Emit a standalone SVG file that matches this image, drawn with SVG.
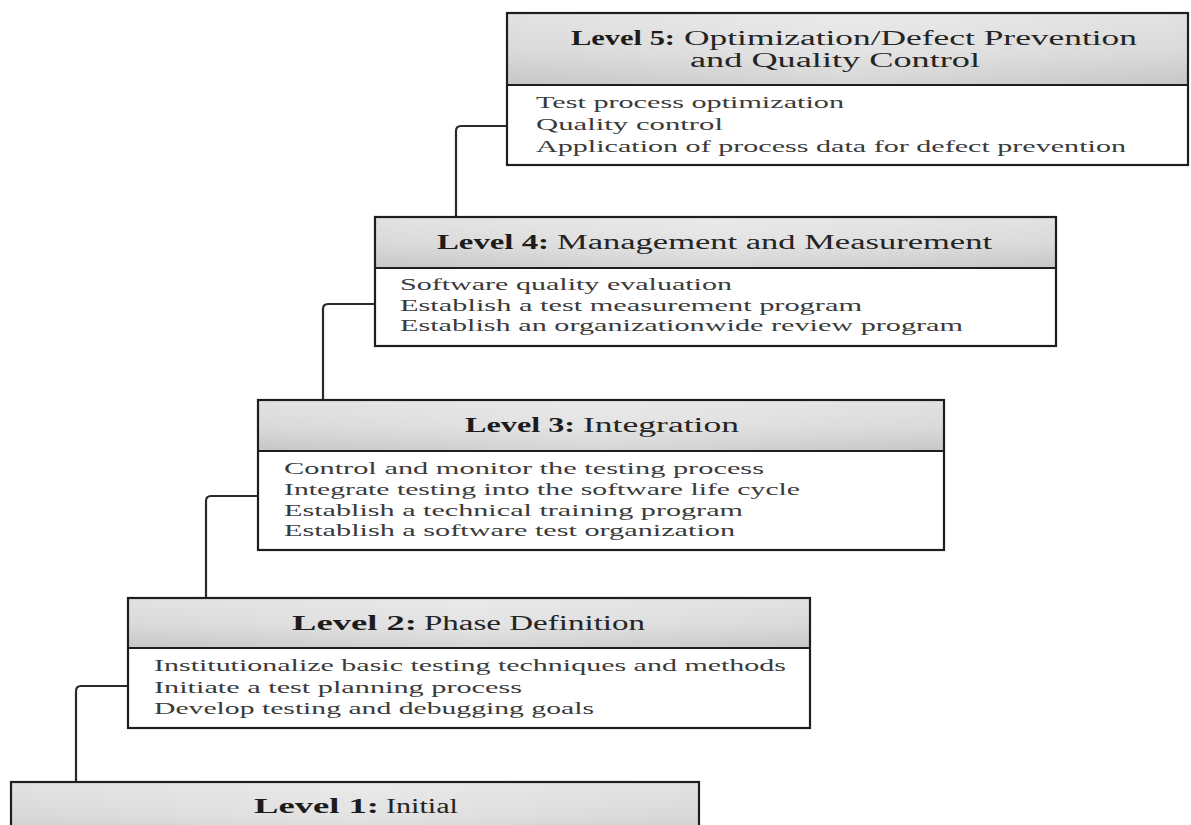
<svg xmlns="http://www.w3.org/2000/svg" width="1191" height="825" viewBox="0 0 1191 825">
  <defs>
    <!-- header band: grey, darker towards the divider -->
    <linearGradient id="hdrGrad" x1="0" y1="0" x2="0" y2="1">
      <stop offset="0" stop-color="#e2e2e2"/>
      <stop offset="0.55" stop-color="#d9d9d9"/>
      <stop offset="1" stop-color="#c6c6c6"/>
    </linearGradient>
    <!-- soft sheen across the middle of each header band -->
    <linearGradient id="hdrSheen" x1="0" y1="0" x2="1" y2="0">
      <stop offset="0" stop-color="#ffffff" stop-opacity="0"/>
      <stop offset="0.5" stop-color="#ffffff" stop-opacity="0.28"/>
      <stop offset="1" stop-color="#ffffff" stop-opacity="0"/>
    </linearGradient>
    <style>
      .hdr { fill: url(#hdrGrad); }
      .sheen { fill: url(#hdrSheen); }
      .body { fill: #ffffff; }
      .frame { fill: none; stroke: #1e1e1e; stroke-width: 2.2; }
      .rule { stroke: #1e1e1e; stroke-width: 2.2; }
      .conn { fill: none; stroke: #2a2a2a; stroke-width: 2.2; }
      text { font-family: "Liberation Serif", "DejaVu Serif", serif; }
      .lvl { font-size: 20px; font-weight: bold; fill: #1c1c1c; }
      .ttl { font-size: 20px; fill: #242424; }
      .item { font-size: 17px; fill: #3a3a3a; }
    </style>
  </defs>

  <rect width="1191" height="825" fill="#ffffff"/>

  <!-- step connectors: from the left side of each level down to the level below -->
  <g id="connectors">
    <path class="conn" d="M507,126 H461 Q456,126 456,131 V217"/>
    <path class="conn" d="M375,304 H328 Q323,304 323,309 V400"/>
    <path class="conn" d="M258,496 H211 Q206,496 206,501 V598"/>
    <path class="conn" d="M128,686 H81 Q76,686 76,691 V782"/>
  </g>

  <!-- Level 5 -->
  <g id="level5">
    <rect class="hdr" x="507" y="13" width="681" height="72"/>
    <rect class="sheen" x="507" y="13" width="681" height="72"/>
    <rect class="body" x="507" y="85" width="681" height="80"/>
    <rect class="frame" x="507" y="13" width="681" height="152"/>
    <line class="rule" x1="507" y1="85" x2="1188" y2="85"/>
    <text class="lvl" x="571" y="45" textLength="104" lengthAdjust="spacingAndGlyphs">Level 5:</text>
    <text class="ttl" x="684" y="45" textLength="453" lengthAdjust="spacingAndGlyphs">Optimization/Defect Prevention</text>
    <text class="ttl" x="690" y="67" textLength="290" lengthAdjust="spacingAndGlyphs">and Quality Control</text>
    <text class="item" x="536" y="108" textLength="308" lengthAdjust="spacingAndGlyphs">Test process optimization</text>
    <text class="item" x="536" y="130" textLength="187" lengthAdjust="spacingAndGlyphs">Quality control</text>
    <text class="item" x="536" y="152" textLength="590" lengthAdjust="spacingAndGlyphs">Application of process data for defect prevention</text>
  </g>

  <!-- Level 4 -->
  <g id="level4">
    <rect class="hdr" x="375" y="217" width="681" height="51"/>
    <rect class="sheen" x="375" y="217" width="681" height="51"/>
    <rect class="body" x="375" y="268" width="681" height="78"/>
    <rect class="frame" x="375" y="217" width="681" height="129"/>
    <line class="rule" x1="375" y1="268" x2="1056" y2="268"/>
    <text class="lvl" x="437" y="249" textLength="112" lengthAdjust="spacingAndGlyphs">Level 4:</text>
    <text class="ttl" x="557" y="249" textLength="435" lengthAdjust="spacingAndGlyphs">Management and Measurement</text>
    <text class="item" x="400" y="290" textLength="332" lengthAdjust="spacingAndGlyphs">Software quality evaluation</text>
    <text class="item" x="400" y="311" textLength="462" lengthAdjust="spacingAndGlyphs">Establish a test measurement program</text>
    <text class="item" x="400" y="331" textLength="563" lengthAdjust="spacingAndGlyphs">Establish an organizationwide review program</text>
  </g>

  <!-- Level 3 -->
  <g id="level3">
    <rect class="hdr" x="258" y="400" width="686" height="51"/>
    <rect class="sheen" x="258" y="400" width="686" height="51"/>
    <rect class="body" x="258" y="451" width="686" height="99"/>
    <rect class="frame" x="258" y="400" width="686" height="150"/>
    <line class="rule" x1="258" y1="451" x2="944" y2="451"/>
    <text class="lvl" x="465" y="432" textLength="110" lengthAdjust="spacingAndGlyphs">Level 3:</text>
    <text class="ttl" x="583" y="432" textLength="156" lengthAdjust="spacingAndGlyphs">Integration</text>
    <text class="item" x="284" y="474" textLength="480" lengthAdjust="spacingAndGlyphs">Control and monitor the testing process</text>
    <text class="item" x="284" y="495" textLength="516" lengthAdjust="spacingAndGlyphs">Integrate testing into the software life cycle</text>
    <text class="item" x="284" y="516" textLength="459" lengthAdjust="spacingAndGlyphs">Establish a technical training program</text>
    <text class="item" x="284" y="536" textLength="451" lengthAdjust="spacingAndGlyphs">Establish a software test organization</text>
  </g>

  <!-- Level 2 -->
  <g id="level2">
    <rect class="hdr" x="128" y="598" width="682" height="50"/>
    <rect class="sheen" x="128" y="598" width="682" height="50"/>
    <rect class="body" x="128" y="648" width="682" height="80"/>
    <rect class="frame" x="128" y="598" width="682" height="130"/>
    <line class="rule" x1="128" y1="648" x2="810" y2="648"/>
    <text class="lvl" x="292" y="630" textLength="125" lengthAdjust="spacingAndGlyphs">Level 2:</text>
    <text class="ttl" x="424" y="630" textLength="221" lengthAdjust="spacingAndGlyphs">Phase Definition</text>
    <text class="item" x="154" y="671" textLength="632" lengthAdjust="spacingAndGlyphs">Institutionalize basic testing techniques and methods</text>
    <text class="item" x="154" y="693" textLength="368" lengthAdjust="spacingAndGlyphs">Initiate a test planning process</text>
    <text class="item" x="154" y="714" textLength="440" lengthAdjust="spacingAndGlyphs">Develop testing and debugging goals</text>
  </g>

  <!-- Level 1 (runs past the lower edge) -->
  <g id="level1">
    <rect class="hdr" x="11" y="782" width="688" height="60"/>
    <rect class="sheen" x="11" y="782" width="688" height="60"/>
    <rect class="frame" x="11" y="782" width="688" height="60"/>
    <text class="lvl" x="254" y="813" textLength="125" lengthAdjust="spacingAndGlyphs">Level 1:</text>
    <text class="ttl" x="386" y="813" textLength="72" lengthAdjust="spacingAndGlyphs">Initial</text>
  </g>
</svg>
